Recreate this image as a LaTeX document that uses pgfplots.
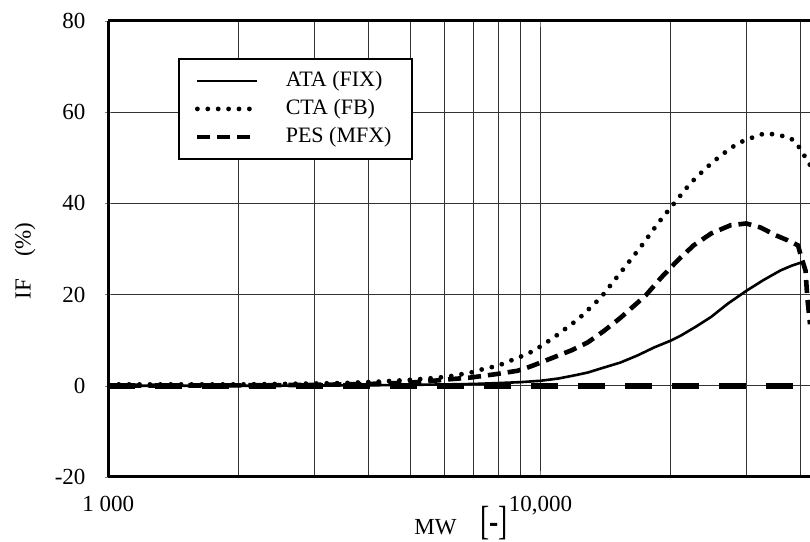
\documentclass[border=0pt]{standalone}
\usepackage{fontspec}
\setmainfont{Liberation Serif}
\usepackage{pgfplots}
\pgfplotsset{compat=1.18}

\begin{document}
\begin{tikzpicture}
\begin{semilogxaxis}[
  scale only axis, width=350.85pt, height=228pt,
  xmin=1000, xmax=42000, ymin=-20, ymax=80,
  axis x line=box, axis y line=left,
  axis line style={line width=1.5pt, -},
  xtick={1000,10000}, xticklabels={1 000,{10,000}},
  minor xtick={2000,3000,4000,5000,6000,7000,8000,9000,20000,30000,40000},
  ytick={-20,0,20,40,60,80},
  grid=both,
  major grid style={line width=0.6pt, black!80},
  minor grid style={line width=0.6pt, black!80},
  major tick length=3pt, minor tick length=0pt,
  /pgf/number format/assume math mode=true,
  tick label style={font=\fontsize{11.5}{13}\selectfont},
  xticklabel style={anchor=base, yshift=-17.5pt},
  yticklabel style={xshift=-6.4pt},
  ylabel={IF\hspace{11pt}(\%)},
  ylabel style={font=\fontsize{11.5}{13}\selectfont, at={(axis description cs:-0.1186,0.474)}, anchor=center},
  xlabel={MW\hspace{12pt}\scalebox{1.2}[1.77]{[-]}},
  xlabel style={font=\fontsize{11.5}{13}\selectfont, at={(axis description cs:0.503,0)}, anchor=base, yshift=-29pt},
  legend style={at={(0.0993,0.919)}, anchor=north west, draw=black, line width=1pt,
    font=\fontsize{11}{13}\selectfont, inner xsep=8pt, inner ysep=4pt,
    nodes={inner sep=2pt, text height=7.8pt, text depth=2.2pt}, cells={anchor=west},
    column sep=11pt},
  legend image code/.code={\draw[#1] (0pt,0pt) -- (30pt,0pt);},
]
\addplot[black, line width=2.8pt, dash pattern=on 13.5pt off 10pt, forget plot] coordinates {(1000,0)(42000,0)};

\addplot[black, line width=1.3pt] coordinates {
(1000,0)(2000,0)(3000,0.05)(4000,0.1)(5000,0.2)(6000,0.3)(7000,0.4)(8000,0.6)(9000,0.8)
(10000,1.1)(11000,1.6)(12000,2.3)(12850,2.9)(13900,3.9)(15300,5.1)(16800,6.7)(18300,8.4)(20000,9.9)
(21100,11.0)(22900,13.0)(24800,15.1)(27100,18.0)(30000,20.9)(32800,23.2)(35900,25.3)(38000,26.3)(40000,27.0)};
\addlegendentry{ATA (FIX)}

\addplot[black, line width=2.4pt, line cap=round, dash pattern=on 0pt off 5.2pt] coordinates {
(1000,0.3)(1500,0.3)(2000,0.3)(2500,0.4)(3000,0.5)(3500,0.6)(4000,0.8)(4400,1.0)(5000,1.3)
(5500,1.6)(6100,2.0)(6530,2.5)(6900,2.9)(7250,3.5)(7650,4.0)(8070,4.6)(8410,5.3)(8890,6.2)
(9330,7.0)(9800,8.1)(10700,10.5)(12250,14.7)(13770,19.3)(15300,24.8)(17000,30.3)(18750,35.8)
(20200,39.6)(22200,44.4)(24100,47.7)(26100,50.5)(28600,53.2)(31800,54.9)(33200,55.4)(35900,54.9)
(37900,54.3)(39400,52.7)(40400,51.0)(41700,49.0)(42000,48.4)};
\addlegendentry{CTA (FB)}

\addplot[black, line width=2.3pt, dash pattern=on 6.5pt off 3.5pt] coordinates {
(1000,0)(2000,0.1)(3000,0.2)(4000,0.4)(5000,0.7)(5650,1.1)(6100,1.4)(6880,1.8)(7950,2.6)
(8850,3.3)(9330,4.0)(9700,4.6)(10700,6.2)(11800,7.8)(12850,9.5)(14000,12.0)(15300,14.9)(17500,19.8)
(19000,23.7)(20000,25.9)(20750,27.5)(22600,30.8)(24800,33.4)(27500,35.2)(29900,35.6)(32300,34.7)
(35000,33.0)(37300,31.9)(39400,30.8)(40000,28.5)(41000,25.3)(41400,19.3)(42000,13.5)};
\addlegendentry{PES (MFX)}
\end{semilogxaxis}
\pgfresetboundingbox
\path ([shift={(-54.15pt,-32.5pt)}]current axis.south west) rectangle ([shift={(0pt,10.5pt)}]current axis.north east);
\end{tikzpicture}
\end{document}
